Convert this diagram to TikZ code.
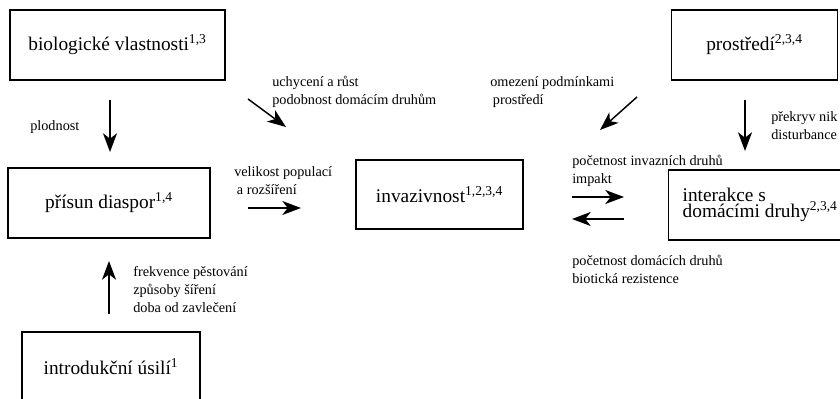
\documentclass[tikz,border=0pt]{standalone}
\usepackage{fontspec}
\setmainfont{Liberation Serif}
\usetikzlibrary{arrows.meta}

\begin{document}
\begin{tikzpicture}[x=0.75pt,y=-0.75pt,
  box/.style={draw,line width=1pt,inner sep=0pt,minimum height=52.5pt,
    font=\fontsize{14.5}{12.5}\selectfont},
  lbl/.style={anchor=west,align=left,inner sep=0pt,
    font=\fontsize{10.7}{13.5}\selectfont},
  arr/.style={line width=1.1pt,-{Stealth[length=14pt,width=10.5pt,inset=4pt]}}]
\useasboundingbox (0,0) rectangle (840,399);
\clip (0,0) rectangle (840,399);
% boxes
\node[box,minimum width=161.25pt] (biol) at (117.5,45) {biologické vlastnosti\textsuperscript{1,3}};
\node[box,minimum width=124.5pt] (prostr) at (754.5,45) {prostředí\textsuperscript{2,3,4}};
\node[box,minimum width=151.5pt] (prisun) at (109,203) {přísun diaspor\textsuperscript{1,4}};
\node[box,minimum width=125.25pt,minimum height=51.75pt] (invaz) at (439.5,194.5) {invazivnost\textsuperscript{1,2,3,4}};
\node[box,anchor=west,inner xsep=10.5pt,minimum width=135pt,align=left] (inter) at (668,205) {interakce s\\domácími druhy\textsuperscript{2,3,4}};
\node[box,minimum width=133.5pt] (intro) at (111,367) {introdukční úsilí\textsuperscript{1}};
% arrow ends
\coordinate (plodA) at (110,100);   \coordinate (plodB) at (110,152);
\coordinate (uchA) at (248,99);     \coordinate (uchB) at (286,127);
\coordinate (omA) at (637,97);      \coordinate (omB) at (600,130);
\coordinate (nikA) at (745,100);    \coordinate (nikB) at (745,151);
\coordinate (velA) at (248,208);    \coordinate (velB) at (301,208);
\coordinate (pocA) at (572,197);    \coordinate (pocB) at (624,197);
\coordinate (domA) at (624,219);    \coordinate (domB) at (572,219);
\coordinate (frA) at (109,314);     \coordinate (frB) at (109,261);
\draw[arr] (plodA) -- (plodB);
\draw[arr] (uchA) -- (uchB);
\draw[arr] (omA) -- (omB);
\draw[arr] (nikA) -- (nikB);
\draw[arr] (velA) -- (velB);
\draw[arr] (pocA) -- (pocB);
\draw[arr] (domA) -- (domB);
\draw[arr] (frA) -- (frB);
% labels
\node[lbl] (plod) at (30,127) {plodnost};
\node[lbl] (uch) at (272,92) {uchycení a růst\\podobnost domácím druhům};
\node[lbl] (om) at (490,92) {omezení podmínkami\\\hspace*{2pt}prostředí};
\node[lbl] (nik) at (771,126) {překryv nik\\disturbance};
\node[lbl] (vel) at (234,181) {velikost populací\\\hspace*{2pt}a rozšíření};
\node[lbl] (pocinv) at (572,171) {početnost invazních druhů\\impakt};
\node[lbl] (pocdom) at (572,269) {početnost domácích druhů\\biotická rezistence};
\node[lbl] (frek) at (133,290) {frekvence pěstování\\způsoby šíření\\doba od zavlečení};
\end{tikzpicture}
\end{document}
